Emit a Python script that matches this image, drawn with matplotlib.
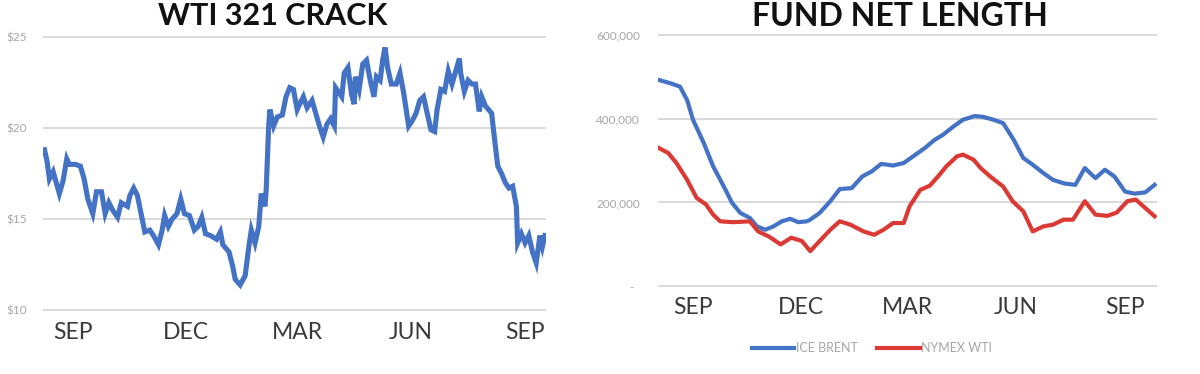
import matplotlib
matplotlib.use("Agg")
import matplotlib.pyplot as plt

# ---------------- data ----------------
month_days = [0, 91, 181, 273, 365]          # days since 1 Sep
month_labels = ["SEP", "DEC", "MAR", "JUN", "SEP"]

crack_days = [-23, -21, -19, -16, -11, -8, -5, -3, 2, 6,
              9, 12, 16, 19, 23, 26, 29, 32, 36, 39,
              44, 46, 49, 52, 55, 58, 62, 65, 69, 72,
              74, 77, 80, 84, 87, 90, 94, 98, 101, 104,
              107, 111, 116, 119, 121, 126, 129, 131, 135, 139,
              142, 144, 147, 150, 152, 155, 156, 158, 159, 162,
              165, 169, 172, 175, 178, 181, 183, 186, 189, 193,
              196, 199, 202, 205, 208, 211, 212, 217, 219, 222,
              225, 227, 228, 231, 234, 237, 240, 243, 245, 248,
              250, 252, 254, 257, 261, 264, 267, 271, 274, 277,
              280, 283, 286, 289, 292, 294, 297, 300, 303, 306,
              309, 312, 313, 316, 319, 322, 325, 328, 330, 333,
              338, 341, 343, 346, 349, 352, 355, 358, 359, 362,
              365, 368, 371, 374, 377, 379, 381]
crack_values = [18.8, 18.2, 17.2, 17.6, 16.4, 17.1, 18.3, 18.0, 18.0, 17.9,
                17.2, 16.1, 15.3, 16.5, 16.5, 15.3, 15.9, 15.5, 15.1, 15.9,
                15.7, 16.3, 16.7, 16.3, 15.3, 14.3, 14.4, 14.1, 13.6, 14.4,
                15.2, 14.6, 15.0, 15.3, 16.1, 15.3, 15.2, 14.4, 14.6, 15.1,
                14.2, 14.1, 13.9, 14.3, 13.6, 13.2, 12.4, 11.7, 11.4, 11.9,
                13.5, 14.4, 13.7, 14.6, 16.4, 15.7, 16.6, 20.1, 21.0, 20.1,
                20.6, 20.7, 21.7, 22.2, 22.1, 21.0, 21.3, 21.7, 21.1, 21.5,
                20.8, 20.1, 19.5, 20.2, 20.5, 20.1, 22.2, 21.7, 23.0, 23.3,
                21.8, 21.3, 22.8, 22.1, 23.5, 23.7, 22.6, 21.7, 22.8, 22.6,
                23.7, 24.4, 23.3, 22.4, 22.4, 23.0, 21.9, 20.1, 20.4, 20.8,
                21.5, 21.7, 20.8, 19.9, 19.8, 21.0, 22.1, 22.0, 23.1, 22.4,
                23.1, 23.8, 23.0, 22.0, 22.6, 22.4, 22.4, 20.9, 21.7, 21.2,
                20.8, 19.0, 17.9, 17.5, 17.0, 16.7, 16.8, 15.7, 13.7, 14.2,
                13.7, 14.1, 13.2, 12.6, 14.1, 13.5, 14.1]
crack_yticks = [10, 15, 20, 25]
crack_ytick_labels = ["$10", "$15", "$20", "$25"]

brent_days = [-29, -19, -11, -5, 0, 9, 17, 26, 33, 40,
              48, 54, 61, 68, 75, 82, 89, 96, 99, 107,
              116, 124, 134, 143, 151, 159, 169, 178, 186, 196,
              204, 211, 220, 228, 238, 245, 254, 262, 271, 279,
              287, 296, 304, 314, 323, 331, 340, 348, 356, 365,
              373, 382, 390]
brent_k = [492, 484, 476, 444, 397, 342, 286, 238, 199, 175,
           163, 143, 135, 143, 155, 161, 153, 155, 159, 175,
           203, 232, 234, 262, 274, 292, 288, 294, 310, 330,
           349, 361, 381, 397, 406, 404, 397, 389, 349, 306,
           290, 270, 254, 245, 242, 282, 258, 278, 262, 226,
           221, 224, 242]

wti_days = [-29, -21, -14, -5, 3, 11, 17, 23, 34, 48,
            55, 64, 74, 83, 92, 99, 107, 116, 124, 133,
            144, 153, 161, 169, 178, 183, 192, 200, 207, 214,
            223, 228, 237, 243, 251, 262, 270, 279, 287, 296,
            304, 313, 321, 331, 340, 350, 358, 367, 374, 382,
            390]
wti_k = [330, 318, 294, 254, 211, 195, 171, 155, 153, 155,
         131, 119, 100, 116, 108, 84, 108, 135, 155, 147,
         131, 123, 135, 151, 151, 191, 230, 240, 262, 286,
         310, 314, 302, 282, 262, 238, 203, 179, 131, 143,
         147, 159, 159, 203, 171, 168, 176, 203, 207, 187,
         167]
fund_yticks = [0, 200000, 400000, 600000]
fund_ytick_labels = ["-  ", "200,000", "400,000", "600,000"]

# ---------------- styling ----------------
BLUE = "#4472C4"
RED = "#DB3A34"
GRID = "#D9D9D9"
YTXT = "#A6A6A6"
XTXT = "#3A3A3A"
FONT = "Lato"

W, H = 1200, 374
fig = plt.figure(figsize=(W / 100, H / 100), dpi=100)
fig.patch.set_facecolor("white")

ax1 = fig.add_axes([43 / W, 1 - 311 / H, 503 / W, 275 / H])
ax2 = fig.add_axes([658 / W, 1 - 287 / H, 499 / W, 253 / H])


def style(ax, ypad, xpad, xsize):
    for s in ax.spines.values():
        s.set_visible(False)
    ax.set_axisbelow(True)
    ax.yaxis.grid(True, color=GRID, linewidth=1.4)
    ax.xaxis.grid(False)
    ax.tick_params(axis="both", length=0)
    ax.tick_params(axis="y", pad=ypad, labelsize=8.5, labelcolor=YTXT)
    ax.tick_params(axis="x", pad=xpad, labelsize=xsize, labelcolor=XTXT)
    for lab in ax.get_xticklabels() + ax.get_yticklabels():
        lab.set_fontfamily(FONT)


# left chart
ax1.plot(crack_days, crack_values, color=BLUE, linewidth=3.7, solid_joinstyle="miter")
ax1.set_xlim(-24.2, 381.9)
ax1.set_ylim(9.97, 25.03)
ax1.set_yticks(crack_yticks)
ax1.set_yticklabels(crack_ytick_labels)
ax1.set_xticks(month_days)
ax1.set_xticklabels(month_labels)
style(ax1, ypad=11.5, xpad=8, xsize=16.5)

# right chart
brent_vals = [v * 1000 for v in brent_k]
wti_vals = [v * 1000 for v in wti_k]
l1, = ax2.plot(brent_days, brent_vals, color=BLUE, linewidth=3.0, label="ICE BRENT")
l2, = ax2.plot(wti_days, wti_vals, color=RED, linewidth=3.0, label="NYMEX WTI")
ax2.set_xlim(-29.6, 392)
ax2.set_ylim(-1500, 601500)
ax2.set_yticks(fund_yticks)
ax2.set_yticklabels(fund_ytick_labels)
ax2.set_xticks(month_days)
ax2.set_xticklabels(month_labels)
style(ax2, ypad=13, xpad=7, xsize=16.5)

# titles
fig.text(273 / W, 1 - 16 / H, "WTI 321 CRACK", ha="center", va="center",
         fontsize=22, fontweight="bold", family=FONT, color="#111111")
fig.text(900 / W, 1 - 16 / H, "FUND NET LENGTH", ha="center", va="center",
         fontsize=23, fontweight="bold", family=FONT, color="#111111")

# legend
leg = fig.legend(handles=[l1, l2], loc="center", bbox_to_anchor=(872 / W, 1 - 348 / H),
                 ncol=2, frameon=False, handlelength=3.4, handletextpad=0.1,
                 columnspacing=1.6, prop={"family": FONT, "size": 9})
for t in leg.get_texts():
    t.set_color(YTXT)

fig.savefig("out.png", dpi=100, facecolor="white")
